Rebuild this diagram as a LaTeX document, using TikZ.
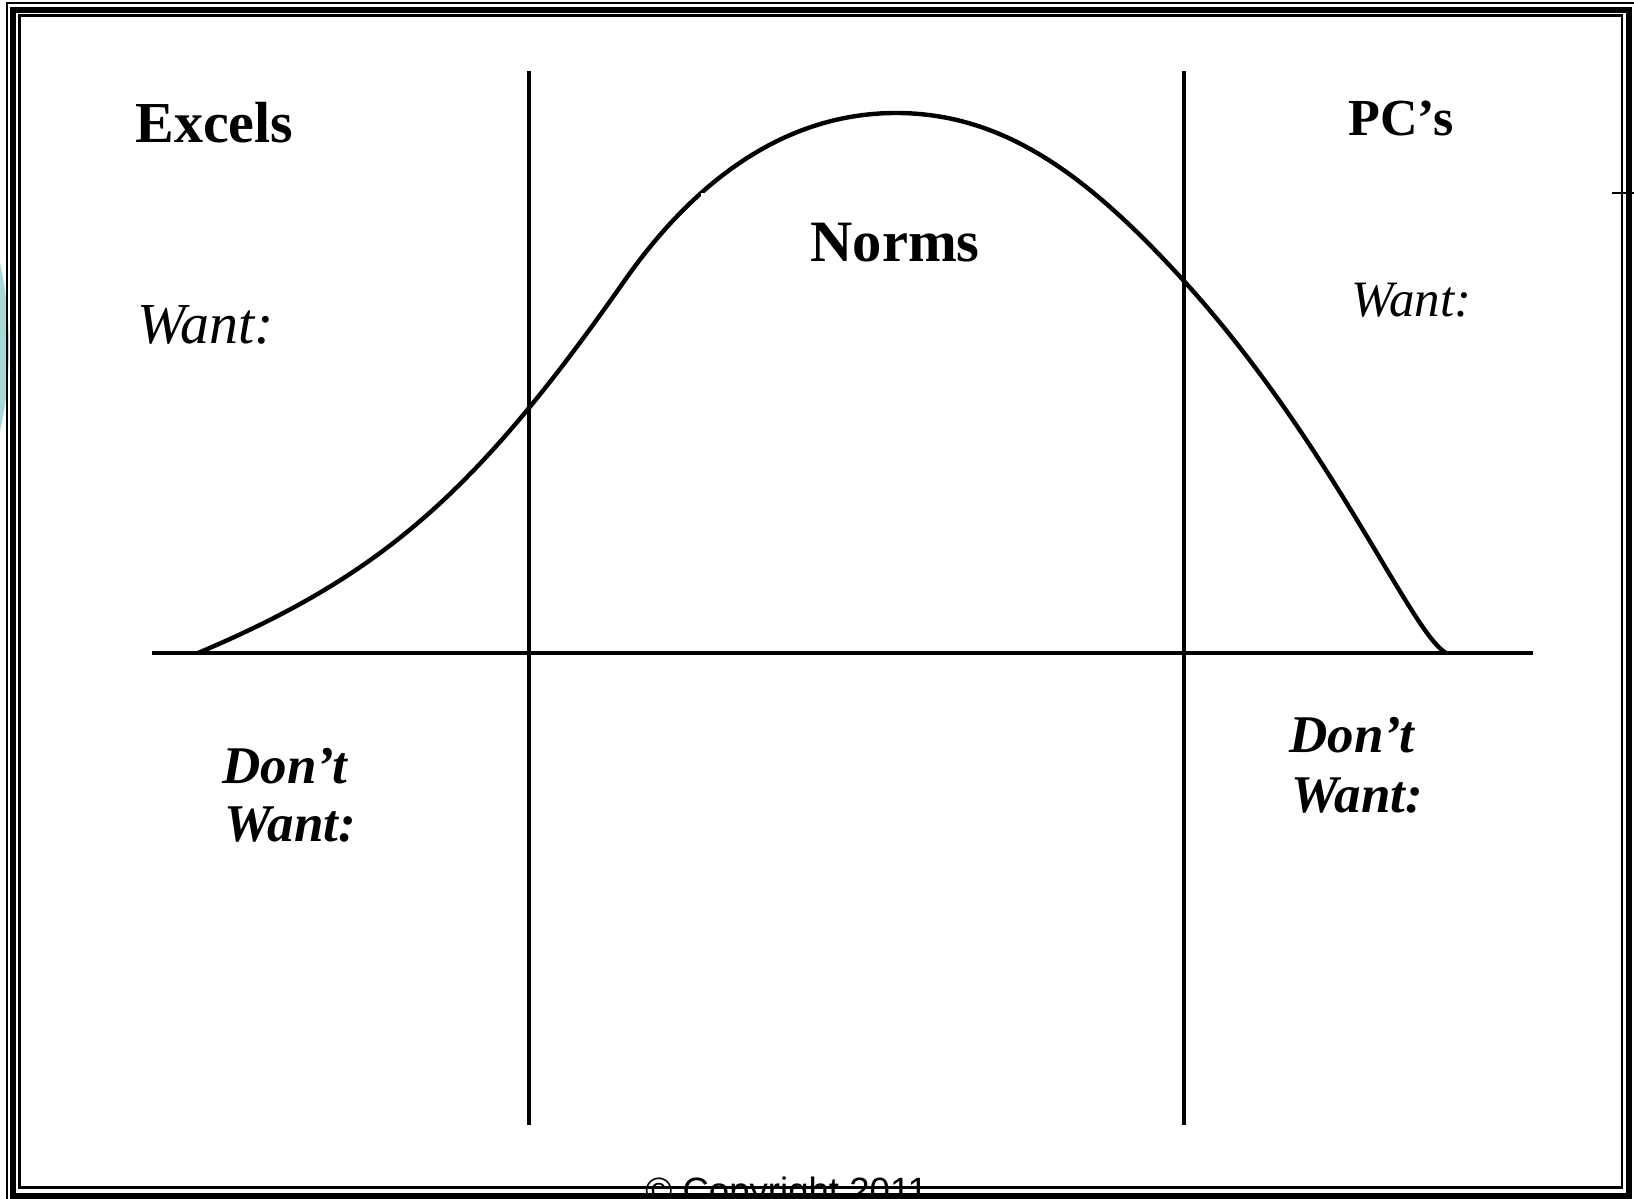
\documentclass[tikz,border=0pt]{standalone}
\usepackage{fontspec}
\setmainfont{Liberation Serif}
\newfontfamily\arialfont{Liberation Sans}
\definecolor{tealbg}{RGB}{168,216,216}
\begin{document}
\begin{tikzpicture}[x=0.5pt,y=-0.5pt,
  axisline/.style={line width=2pt},
  curveline/.style={line width=2.2pt, line join=round},
  boldlabel/.style={inner sep=0pt, anchor=base west, font=\bfseries\fontsize{#1}{#1}\selectfont},
  itallabel/.style={inner sep=0pt, anchor=base west, font=\itshape\fontsize{#1}{#1}\selectfont},
  bilabel/.style={inner sep=0pt, anchor=base west, font=\bfseries\itshape\fontsize{#1}{#1}\selectfont},
  thinframe/.style={line width=1pt},
  thickframe/.style={line width=3pt},
  innerframe/.style={line width=1.25pt}]
\useasboundingbox (0,0) rectangle (1634,1199);
\clip (0,0) rectangle (1634,1199);
\fill[white] (0,0) rectangle (1634,1199);
% teal decoration at left edge
\fill[tealbg] (-387,347) circle[radius=396];
% copyright text (mostly hidden under the frame)
\node[inner sep=0pt, anchor=base west, font=\arialfont\fontsize{18.3}{20}\selectfont] (copy) at (645,1203) {© Copyright 2011};
% frame
\draw[thinframe] (7,3) rectangle (1645,1215);
\draw[thickframe] (12.5,9.5) rectangle (1629.2,1196);
\draw[innerframe] (19.5,15.5) rectangle (1622,1187.5);
% tick at top right
\coordinate (tk1) at (1612,193);
\coordinate (tk2) at (1634,193);
\draw[line width=1pt] (tk1) -- (tk2);
% axes
\coordinate (axL) at (152,653);
\coordinate (axR) at (1533,653);
\coordinate (v1t) at (529,71);
\coordinate (v1b) at (529,1125);
\coordinate (v2t) at (1184,71);
\coordinate (v2b) at (1184,1125);
\draw[axisline] (axL) -- (axR);
\draw[axisline] (v1t) -- (v1b);
\draw[axisline] (v2t) -- (v2b);
% bell curve
\coordinate (c0) at (198,653);
\coordinate (c1) at (625,280);
\coordinate (c2) at (896,113);
\coordinate (c3) at (1184,281);
\coordinate (c4) at (1446,653);
\draw[curveline] (c0) .. controls (382,575) and (476,493) .. (c1)
  .. controls (677,206) and (766,113) .. (c2)
  .. controls (1006,113) and (1090,178) .. (c3)
  .. controls (1332,444) and (1411,633) .. (c4);
% small white notch on the curve
\fill[white] (701,192.5) rectangle (712,199);
% labels
\node[boldlabel=29] (excels) at (135,142) {Excels};
\node[boldlabel=29.3] (norms) at (810,261) {Norms};
\node[boldlabel=26] (pcs) at (1348,135) {PC’s};
\node[itallabel=29] (wantL) at (137,343) {Want:};
\node[itallabel=25.5] (wantR) at (1351,316) {Want:};
\node[bilabel=26.5] (dontL) at (222,783) {Don’t};
\node[bilabel=26.5] (dwantL) at (224,841) {Want:};
\node[bilabel=26.5] (dontR) at (1289,752) {Don’t};
\node[bilabel=26.5] (dwantR) at (1291,812) {Want:};
\end{tikzpicture}
\end{document}
